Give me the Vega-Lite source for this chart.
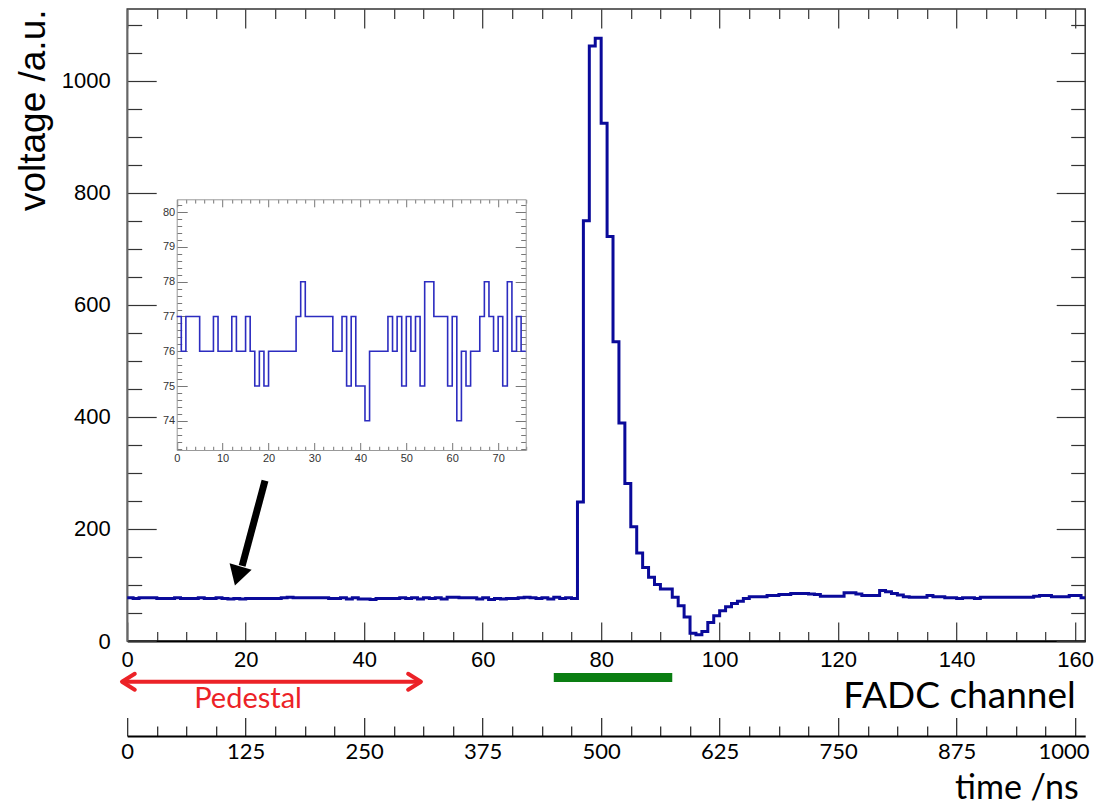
{
  "$schema": "https://vega.github.io/schema/vega-lite/v6.json",
  "width": 958,
  "height": 632,
  "autosize": {"type": "none"},
  "padding": {"left": 127.2, "top": 9, "right": 13.8, "bottom": 165},
  "background": "white",
  "config": {
    "view": {"stroke": "#333", "strokeWidth": 1.5},
    "axis": {"grid": false, "labelFont": "Liberation Sans", "titleFont": "Liberation Sans", "titleFontWeight": "normal", "labelColor": "#000", "titleColor": "#000"}
  },
  "datasets": {
    "main": [
      {"ch":0,"v":77},{"ch":1,"v":76},{"ch":2,"v":77},{"ch":3,"v":77},{"ch":4,"v":77},{"ch":5,"v":76},{"ch":6,"v":76},{"ch":7,"v":76},{"ch":8,"v":77},{"ch":9,"v":76},
      {"ch":10,"v":76},{"ch":11,"v":76},{"ch":12,"v":77},{"ch":13,"v":76},{"ch":14,"v":76},{"ch":15,"v":77},{"ch":16,"v":76},{"ch":17,"v":75},{"ch":18,"v":76},{"ch":19,"v":75},
      {"ch":20,"v":76},{"ch":21,"v":76},{"ch":22,"v":76},{"ch":23,"v":76},{"ch":24,"v":76},{"ch":25,"v":76},{"ch":26,"v":77},{"ch":27,"v":78},{"ch":28,"v":77},{"ch":29,"v":77},
      {"ch":30,"v":77},{"ch":31,"v":77},{"ch":32,"v":77},{"ch":33,"v":77},{"ch":34,"v":76},{"ch":35,"v":76},{"ch":36,"v":77},{"ch":37,"v":75},{"ch":38,"v":77},{"ch":39,"v":75},
      {"ch":40,"v":75},{"ch":41,"v":74},{"ch":42,"v":76},{"ch":43,"v":76},{"ch":44,"v":76},{"ch":45,"v":76},{"ch":46,"v":77},{"ch":47,"v":76},{"ch":48,"v":77},{"ch":49,"v":75},
      {"ch":50,"v":77},{"ch":51,"v":76},{"ch":52,"v":77},{"ch":53,"v":75},{"ch":54,"v":78},{"ch":55,"v":78},{"ch":56,"v":77},{"ch":57,"v":77},{"ch":58,"v":77},{"ch":59,"v":75},
      {"ch":60,"v":77},{"ch":61,"v":74},{"ch":62,"v":76},{"ch":63,"v":75},{"ch":64,"v":76},{"ch":65,"v":76},{"ch":66,"v":77},{"ch":67,"v":78},{"ch":68,"v":77},{"ch":69,"v":76},
      {"ch":70,"v":77},{"ch":71,"v":75},{"ch":72,"v":78},{"ch":73,"v":76},{"ch":74,"v":77},{"ch":75,"v":76},{"ch":76,"v":248},{"ch":77,"v":750},{"ch":78,"v":1062},{"ch":79,"v":1076},
      {"ch":80,"v":924},{"ch":81,"v":722},{"ch":82,"v":534},{"ch":83,"v":389},{"ch":84,"v":281},{"ch":85,"v":204},{"ch":86,"v":157},{"ch":87,"v":131},{"ch":88,"v":114},{"ch":89,"v":101},
      {"ch":90,"v":93},{"ch":91,"v":93},{"ch":92,"v":78},{"ch":93,"v":63},{"ch":94,"v":43},{"ch":95,"v":14},{"ch":96,"v":11},{"ch":97,"v":17},{"ch":98,"v":33},{"ch":99,"v":45},
      {"ch":100,"v":54},{"ch":101,"v":61},{"ch":102,"v":67},{"ch":103,"v":71},{"ch":104,"v":76},{"ch":105,"v":79},{"ch":106,"v":79},{"ch":107,"v":79},{"ch":108,"v":81},{"ch":109,"v":81},
      {"ch":110,"v":83},{"ch":111,"v":83},{"ch":112,"v":85},{"ch":113,"v":85},{"ch":114,"v":85},{"ch":115,"v":84},{"ch":116,"v":83},{"ch":117,"v":80},{"ch":118,"v":80},{"ch":119,"v":80},
      {"ch":120,"v":80},{"ch":121,"v":86},{"ch":122,"v":86},{"ch":123,"v":84},{"ch":124,"v":81},{"ch":125,"v":81},{"ch":126,"v":81},{"ch":127,"v":90},{"ch":128,"v":88},{"ch":129,"v":85},
      {"ch":130,"v":82},{"ch":131,"v":79},{"ch":132,"v":78},{"ch":133,"v":78},{"ch":134,"v":78},{"ch":135,"v":81},{"ch":136,"v":79},{"ch":137,"v":79},{"ch":138,"v":77},{"ch":139,"v":77},
      {"ch":140,"v":76},{"ch":141,"v":77},{"ch":142,"v":77},{"ch":143,"v":76},{"ch":144,"v":78},{"ch":145,"v":78},{"ch":146,"v":78},{"ch":147,"v":78},{"ch":148,"v":78},{"ch":149,"v":78},
      {"ch":150,"v":78},{"ch":151,"v":78},{"ch":152,"v":78},{"ch":153,"v":80},{"ch":154,"v":81},{"ch":155,"v":81},{"ch":156,"v":79},{"ch":157,"v":79},{"ch":158,"v":79},{"ch":159,"v":81},
      {"ch":160,"v":81},{"ch":161,"v":77},{"ch":161.7,"v":77}
    ],
    "inset": [
      {"ch":0,"v":77},{"ch":1,"v":76},{"ch":2,"v":77},{"ch":3,"v":77},{"ch":4,"v":77},{"ch":5,"v":76},{"ch":6,"v":76},{"ch":7,"v":76},{"ch":8,"v":77},{"ch":9,"v":76},
      {"ch":10,"v":76},{"ch":11,"v":76},{"ch":12,"v":77},{"ch":13,"v":76},{"ch":14,"v":76},{"ch":15,"v":77},{"ch":16,"v":76},{"ch":17,"v":75},{"ch":18,"v":76},{"ch":19,"v":75},
      {"ch":20,"v":76},{"ch":21,"v":76},{"ch":22,"v":76},{"ch":23,"v":76},{"ch":24,"v":76},{"ch":25,"v":76},{"ch":26,"v":77},{"ch":27,"v":78},{"ch":28,"v":77},{"ch":29,"v":77},
      {"ch":30,"v":77},{"ch":31,"v":77},{"ch":32,"v":77},{"ch":33,"v":77},{"ch":34,"v":76},{"ch":35,"v":76},{"ch":36,"v":77},{"ch":37,"v":75},{"ch":38,"v":77},{"ch":39,"v":75},
      {"ch":40,"v":75},{"ch":41,"v":74},{"ch":42,"v":76},{"ch":43,"v":76},{"ch":44,"v":76},{"ch":45,"v":76},{"ch":46,"v":77},{"ch":47,"v":76},{"ch":48,"v":77},{"ch":49,"v":75},
      {"ch":50,"v":77},{"ch":51,"v":76},{"ch":52,"v":77},{"ch":53,"v":75},{"ch":54,"v":78},{"ch":55,"v":78},{"ch":56,"v":77},{"ch":57,"v":77},{"ch":58,"v":77},{"ch":59,"v":75},
      {"ch":60,"v":77},{"ch":61,"v":74},{"ch":62,"v":76},{"ch":63,"v":75},{"ch":64,"v":76},{"ch":65,"v":76},{"ch":66,"v":77},{"ch":67,"v":78},{"ch":68,"v":77},{"ch":69,"v":76},
      {"ch":70,"v":77},{"ch":71,"v":75},{"ch":72,"v":78},{"ch":73,"v":76},{"ch":74,"v":77},{"ch":75,"v":76},{"ch":76,"v":76}
    ],
    "redline": [{"x1": -0.85, "x2": 49.6, "y": -72.7}],
    "chevrons": [{"x": 0.2, "y": -72.7, "dir": "L"}, {"x": 48.5, "y": -72.7, "dir": "R"}],
    "greenbar": [{"x1": 72, "x2": 92, "y": -65.2}],
    "pedestal": [{"x": 20.4, "y": -119.6, "label": "Pedestal"}],
    "shaft": [{"x1": 23.26, "y1": 286.3, "x2": 19.4, "y2": 134}],
    "head": [{"x": 18.66, "y": 115.9}]
  },
  "layer": [
    {
      "data": {"name": "main"},
      "mark": {"type": "line", "interpolate": "step-after", "color": "#0a0a9a", "strokeWidth": 3},
      "encoding": {
        "x": {"field": "ch", "type": "quantitative", "scale": {"domain": [0, 161.7], "nice": false, "zero": false},
          "axis": {"orient": "bottom", "values": [0,5,10,15,20,25,30,35,40,45,50,55,60,65,70,75,80,85,90,95,100,105,110,115,120,125,130,135,140,145,150,155,160],
            "tickSize": {"condition": {"test": "datum.value % 20 === 0", "value": -19}, "value": -9.5},
            "tickColor": "#333", "tickWidth": 1.2, "format": "d",
            "labelExpr": "datum.value % 20 === 0 ? datum.label : ''",
            "labelPadding": 27, "labelFontSize": 22, "labelFlush": false, "labelBaseline": "top",
            "domainColor": "#000", "domainWidth": 2,
            "title": "FADC channel", "titleFont": "Lato", "titleFontSize": 37, "titleX": 948, "titleY": 66, "titleAlign": "right", "titleBaseline": "alphabetic", "titleAnchor": null}},
        "y": {"field": "v", "type": "quantitative", "scale": {"domain": [0, 1128], "nice": false},
          "axis": {"orient": "left", "values": [0,50,100,150,200,250,300,350,400,450,500,550,600,650,700,750,800,850,900,950,1000,1050,1100],
            "tickSize": {"condition": {"test": "datum.value % 200 === 0", "value": -29}, "value": -14.5},
            "tickColor": "#333", "tickWidth": 1.2, "format": "d",
            "labelExpr": "datum.value % 200 === 0 ? datum.label : ''",
            "labelPadding": 46, "labelFontSize": 22, "labelFlush": false,
            "domainColor": "#666", "domainWidth": 1.5,
            "title": "voltage /a.u.", "titleFontSize": 37, "titleAngle": 270, "titleX": -82.6, "titleY": 0, "titleAlign": "right", "titleBaseline": "alphabetic", "titleAnchor": null}}
      }
    },
    {
      "data": {"name": "main"},
      "mark": {"type": "line", "opacity": 0},
      "encoding": {
        "x": {"field": "ch", "type": "quantitative", "scale": {"domain": [0, 161.7], "nice": false, "zero": false},
          "axis": {"orient": "top", "values": [0,5,10,15,20,25,30,35,40,45,50,55,60,65,70,75,80,85,90,95,100,105,110,115,120,125,130,135,140,145,150,155,160],
            "tickSize": {"condition": {"test": "datum.value % 20 === 0", "value": -19}, "value": -9.5},
            "tickColor": "#333", "tickWidth": 1.2, "labels": false, "domain": false, "title": null}},
        "y": {"field": "v", "type": "quantitative", "scale": {"domain": [0, 1128], "nice": false},
          "axis": {"orient": "right", "values": [0,50,100,150,200,250,300,350,400,450,500,550,600,650,700,750,800,850,900,950,1000,1050,1100],
            "tickSize": {"condition": {"test": "datum.value % 200 === 0", "value": -29}, "value": -14.5},
            "tickColor": "#333", "tickWidth": 1.2, "labels": false, "domain": false, "title": null}}
      }
    },
    {
      "data": {"name": "main"},
      "mark": {"type": "line", "opacity": 0},
      "encoding": {
        "x": {"field": "ch", "type": "quantitative", "scale": {"domain": [0, 161.7], "nice": false, "zero": false},
          "axis": {"orient": "bottom", "offset": 95, "values": [0,5,10,15,20,25,30,35,40,45,50,55,60,65,70,75,80,85,90,95,100,105,110,115,120,125,130,135,140,145,150,155,160],
            "tickSize": {"condition": {"test": "datum.value % 20 === 0", "value": -18.6}, "value": -10},
            "tickColor": "#222", "tickWidth": 1.2,
            "labelExpr": "datum.value % 20 === 0 ? format(datum.value * 6.25, 'd') : ''",
            "labelAlign": {"condition": {"test": "datum.value === 160", "value": "right"}, "value": "center"},
            "labelOffset": {"condition": {"test": "datum.value === 160", "value": 14}, "value": 0},
            "labelPadding": 24, "labelFont": "Lato", "labelFontSize": 22, "labelFlush": false, "labelBaseline": "top",
            "domainColor": "#000", "domainWidth": 2,
            "title": "time /ns", "titleFont": "Lato", "titleFontSize": 34, "titleX": 951, "titleY": 62, "titleAlign": "right", "titleBaseline": "alphabetic", "titleAnchor": null}},
        "y": {"field": "v", "type": "quantitative", "scale": {"domain": [0, 1128], "nice": false}, "axis": null}
      }
    },
    {
      "data": {"name": "inset"},
      "mark": {"type": "line", "interpolate": "step-after", "color": "#2c2cc0", "strokeWidth": 1.6},
      "encoding": {
        "x": {"field": "ch", "type": "quantitative", "scale": {"domain": [0, 76], "range": [49.5, 398.5], "nice": false, "zero": false},
          "axis": {"orient": "bottom", "offset": -191, "values": [0,2,4,6,8,10,12,14,16,18,20,22,24,26,28,30,32,34,36,38,40,42,44,46,48,50,52,54,56,58,60,62,64,66,68,70,72,74,76],
            "tickSize": {"condition": {"test": "datum.value % 10 === 0", "value": -7.5}, "value": -3.75},
            "tickColor": "#777", "tickWidth": 1, "format": "d",
            "labelExpr": "datum.value % 10 === 0 ? datum.label : ''",
            "labelPadding": 10, "labelFontSize": 11, "labelColor": "#333", "labelFlush": false, "labelBaseline": "top",
            "domainColor": "#999", "domainWidth": 1, "title": null}},
        "y": {"field": "v", "type": "quantitative", "scale": {"domain": [73.16, 80.37], "range": [441, 190.3], "nice": false, "zero": false},
          "axis": {"orient": "left", "offset": -49.5, "values": [73.2,73.4,73.6,73.8,74,74.2,74.4,74.6,74.8,75,75.2,75.4,75.6,75.8,76,76.2,76.4,76.6,76.8,77,77.2,77.4,77.6,77.8,78,78.2,78.4,78.6,78.8,79,79.2,79.4,79.6,79.8,80,80.2],
            "tickSize": {"condition": {"test": "abs(datum.value - round(datum.value)) < 0.01", "value": -10.5}, "value": -5},
            "tickColor": "#777", "tickWidth": 1,
            "labelExpr": "abs(datum.value - round(datum.value)) < 0.01 ? format(round(datum.value), 'd') : ''",
            "labelPadding": 12.5, "labelFontSize": 11, "labelColor": "#333", "labelFlush": false,
            "domainColor": "#999", "domainWidth": 1, "title": null}}
      }
    },
    {
      "data": {"name": "inset"},
      "mark": {"type": "line", "opacity": 0},
      "encoding": {
        "x": {"field": "ch", "type": "quantitative", "scale": {"domain": [0, 76], "range": [49.5, 398.5], "nice": false, "zero": false},
          "axis": {"orient": "top", "offset": -190.3, "values": [0,2,4,6,8,10,12,14,16,18,20,22,24,26,28,30,32,34,36,38,40,42,44,46,48,50,52,54,56,58,60,62,64,66,68,70,72,74,76],
            "tickSize": {"condition": {"test": "datum.value % 10 === 0", "value": -7.5}, "value": -3.75},
            "tickColor": "#777", "tickWidth": 1, "labels": false, "domainColor": "#999", "domainWidth": 1, "title": null}},
        "y": {"field": "v", "type": "quantitative", "scale": {"domain": [73.16, 80.37], "range": [441, 190.3], "nice": false, "zero": false},
          "axis": {"orient": "right", "offset": -559.5, "values": [73.2,73.4,73.6,73.8,74,74.2,74.4,74.6,74.8,75,75.2,75.4,75.6,75.8,76,76.2,76.4,76.6,76.8,77,77.2,77.4,77.6,77.8,78,78.2,78.4,78.6,78.8,79,79.2,79.4,79.6,79.8,80,80.2],
            "tickSize": {"condition": {"test": "abs(datum.value - round(datum.value)) < 0.01", "value": -10.5}, "value": -5},
            "tickColor": "#777", "tickWidth": 1, "labels": false, "domainColor": "#999", "domainWidth": 1, "title": null}}
      }
    },
    {
      "data": {"name": "redline"},
      "mark": {"type": "rule", "color": "#ec2227", "strokeWidth": 4},
      "encoding": {
        "x": {"field": "x1", "type": "quantitative", "scale": {"domain": [0, 161.7], "nice": false, "zero": false}, "axis": null},
        "x2": {"field": "x2"},
        "y": {"field": "y", "type": "quantitative", "scale": {"domain": [0, 1128], "nice": false}, "axis": null}
      }
    },
    {
      "data": {"name": "chevrons"},
      "mark": {"type": "point", "filled": false, "color": "#ec2227", "strokeWidth": 4, "size": 256, "opacity": 1, "strokeCap": "round", "strokeJoin": "round"},
      "encoding": {
        "x": {"field": "x", "type": "quantitative", "scale": {"domain": [0, 161.7], "nice": false, "zero": false}, "axis": null},
        "y": {"field": "y", "type": "quantitative", "scale": {"domain": [0, 1128], "nice": false}, "axis": null},
        "shape": {"field": "dir", "type": "nominal", "scale": {"domain": ["L", "R"], "range": ["M0.8,-1L-0.8,0L0.8,1", "M-0.8,-1L0.8,0L-0.8,1"]}, "legend": null}
      }
    },
    {
      "data": {"name": "greenbar"},
      "mark": {"type": "rule", "color": "#0a7e12", "strokeWidth": 9},
      "encoding": {
        "x": {"field": "x1", "type": "quantitative", "scale": {"domain": [0, 161.7], "nice": false, "zero": false}, "axis": null},
        "x2": {"field": "x2"},
        "y": {"field": "y", "type": "quantitative", "scale": {"domain": [0, 1128], "nice": false}, "axis": null}
      }
    },
    {
      "data": {"name": "pedestal"},
      "mark": {"type": "text", "color": "#ec2227", "font": "Lato", "fontSize": 29, "align": "center", "baseline": "alphabetic"},
      "encoding": {
        "x": {"field": "x", "type": "quantitative", "scale": {"domain": [0, 161.7], "nice": false, "zero": false}, "axis": null},
        "y": {"field": "y", "type": "quantitative", "scale": {"domain": [0, 1128], "nice": false}, "axis": null},
        "text": {"field": "label"}
      }
    },
    {
      "data": {"name": "shaft"},
      "mark": {"type": "rule", "color": "#000", "strokeWidth": 7},
      "encoding": {
        "x": {"field": "x1", "type": "quantitative", "scale": {"domain": [0, 161.7], "nice": false, "zero": false}, "axis": null},
        "x2": {"field": "x2"},
        "y": {"field": "y1", "type": "quantitative", "scale": {"domain": [0, 1128], "nice": false}, "axis": null},
        "y2": {"field": "y2"}
      }
    },
    {
      "data": {"name": "head"},
      "mark": {"type": "point", "shape": "triangle-up", "filled": true, "color": "#000", "size": 529, "angle": 196.6, "opacity": 1},
      "encoding": {
        "x": {"field": "x", "type": "quantitative", "scale": {"domain": [0, 161.7], "nice": false, "zero": false}, "axis": null},
        "y": {"field": "y", "type": "quantitative", "scale": {"domain": [0, 1128], "nice": false}, "axis": null}
      }
    }
  ],
  "resolve": {"scale": {"x": "independent", "y": "independent", "shape": "independent"}, "axis": {"x": "independent", "y": "independent"}}
}
